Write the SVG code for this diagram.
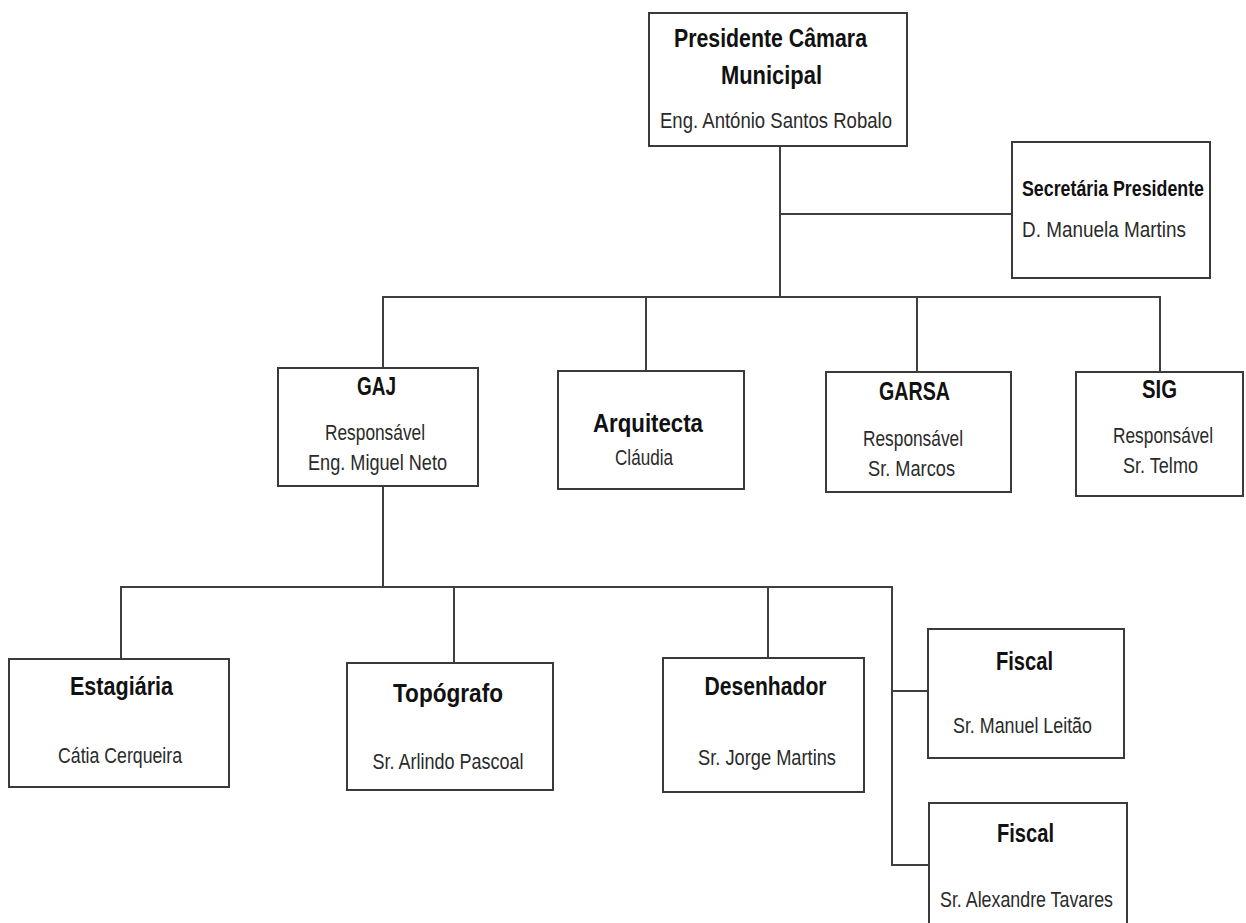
<svg xmlns="http://www.w3.org/2000/svg" width="1246" height="923" viewBox="0 0 1246 923">
<style>
.box{fill:#fff;stroke:#3a3a3a;stroke-width:2}
.ln{fill:none;stroke:#3f3f3f;stroke-width:2}
.t{font-family:"Liberation Sans",Arial,sans-serif;font-weight:bold;font-size:25px;fill:#111;text-anchor:middle}
.s{font-family:"Liberation Sans",Arial,sans-serif;font-size:22px;fill:#2a2a2a;text-anchor:middle}
.l{text-anchor:start}
</style>
<rect width="1246" height="923" fill="#fff"/>
<g id="connectors">
<polyline class="ln" points="780,146 780,297"/>
<polyline class="ln" points="780,214 1012,214"/>
<polyline class="ln" points="383,368 383,297 1160,297 1160,372"/>
<line class="ln" x1="646" y1="297" x2="646" y2="371"/>
<line class="ln" x1="917" y1="297" x2="917" y2="372"/>
<polyline class="ln" points="383,486 383,587"/>
<polyline class="ln" points="121,659 121,587 892,587 892,865 929,865"/>
<line class="ln" x1="454" y1="587" x2="454" y2="663"/>
<line class="ln" x1="768" y1="587" x2="768" y2="658"/>
<line class="ln" x1="892" y1="691" x2="928" y2="691"/>
</g>
<g id="presidente">
<rect class="box" x="649" y="13" width="258" height="133"/>
<text class="t" x="770.5" y="47" textLength="193" lengthAdjust="spacingAndGlyphs">Presidente Câmara</text>
<text class="t" x="771.5" y="84" textLength="101" lengthAdjust="spacingAndGlyphs">Municipal</text>
<text class="s" x="776" y="128" textLength="232" lengthAdjust="spacingAndGlyphs">Eng. António Santos Robalo</text>
</g>
<g id="secretaria">
<rect class="box" x="1012" y="142" width="198" height="136"/>
<text class="t l" x="1022" y="196" style="font-size:22px" textLength="182" lengthAdjust="spacingAndGlyphs">Secretária Presidente</text>
<text class="s l" x="1022" y="237" textLength="164" lengthAdjust="spacingAndGlyphs">D. Manuela Martins</text>
</g>
<g id="gaj">
<rect class="box" x="278" y="368" width="200" height="118"/>
<text class="t" x="376.5" y="395" textLength="39" lengthAdjust="spacingAndGlyphs">GAJ</text>
<text class="s" x="375" y="440" textLength="100" lengthAdjust="spacingAndGlyphs">Responsável</text>
<text class="s" x="377.5" y="470" textLength="139" lengthAdjust="spacingAndGlyphs">Eng. Miguel Neto</text>
</g>
<g id="arquitecta">
<rect class="box" x="558" y="371" width="186" height="118"/>
<text class="t" x="648" y="432" textLength="110" lengthAdjust="spacingAndGlyphs">Arquitecta</text>
<text class="s" x="644" y="465" textLength="58" lengthAdjust="spacingAndGlyphs">Cláudia</text>
</g>
<g id="garsa">
<rect class="box" x="826" y="372" width="185" height="120"/>
<text class="t" x="914.5" y="400" textLength="71" lengthAdjust="spacingAndGlyphs">GARSA</text>
<text class="s" x="913" y="446" textLength="100" lengthAdjust="spacingAndGlyphs">Responsável</text>
<text class="s" x="911.5" y="476" textLength="87" lengthAdjust="spacingAndGlyphs">Sr. Marcos</text>
</g>
<g id="sig">
<rect class="box" x="1076" y="372" width="167" height="124"/>
<text class="t" x="1159.5" y="398" textLength="35" lengthAdjust="spacingAndGlyphs">SIG</text>
<text class="s" x="1163" y="443" textLength="100" lengthAdjust="spacingAndGlyphs">Responsável</text>
<text class="s" x="1160.5" y="473" textLength="75" lengthAdjust="spacingAndGlyphs">Sr. Telmo</text>
</g>
<g id="estagiaria">
<rect class="box" x="9" y="659" width="220" height="128"/>
<text class="t" x="121.5" y="695" textLength="103" lengthAdjust="spacingAndGlyphs">Estagiária</text>
<text class="s" x="120" y="763" textLength="124" lengthAdjust="spacingAndGlyphs">Cátia Cerqueira</text>
</g>
<g id="topografo">
<rect class="box" x="347" y="663" width="206" height="127"/>
<text class="t" x="448" y="702" textLength="110" lengthAdjust="spacingAndGlyphs">Topógrafo</text>
<text class="s" x="448" y="769" textLength="151" lengthAdjust="spacingAndGlyphs">Sr. Arlindo Pascoal</text>
</g>
<g id="desenhador">
<rect class="box" x="663" y="658" width="201" height="134"/>
<text class="t" x="765.5" y="695" textLength="122" lengthAdjust="spacingAndGlyphs">Desenhador</text>
<text class="s" x="767" y="765" textLength="138" lengthAdjust="spacingAndGlyphs">Sr. Jorge Martins</text>
</g>
<g id="fiscal1">
<rect class="box" x="928" y="629" width="196" height="129"/>
<text class="t" x="1024.5" y="670" textLength="57" lengthAdjust="spacingAndGlyphs">Fiscal</text>
<text class="s" x="1022.5" y="733" textLength="139" lengthAdjust="spacingAndGlyphs">Sr. Manuel Leitão</text>
</g>
<g id="fiscal2">
<rect class="box" x="929" y="803" width="198" height="140"/>
<text class="t" x="1025.5" y="842" textLength="57" lengthAdjust="spacingAndGlyphs">Fiscal</text>
<text class="s" x="1026.5" y="907" textLength="173" lengthAdjust="spacingAndGlyphs">Sr. Alexandre Tavares</text>
</g>
</svg>
